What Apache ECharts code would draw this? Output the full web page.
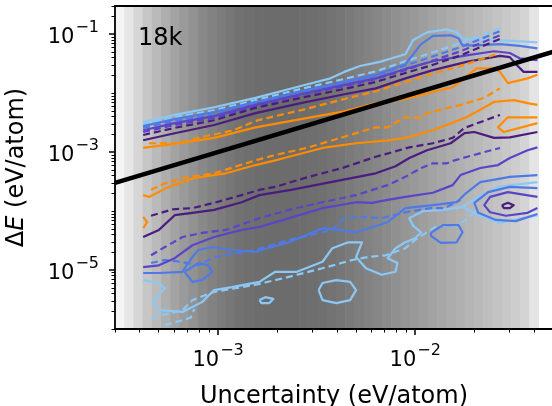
<!DOCTYPE html>
<html>
<head>
<meta charset="utf-8">
<script src="https://cdn.jsdelivr.net/npm/echarts@6/dist/echarts.min.js"></script>
<style>
html, body { margin: 0; padding: 0; background: #ffffff; }
#chart { width: 552px; height: 406px; }
</style>
</head>
<body>
<div id="chart"></div>
<script>
// All coordinates are log10 values: [log10 uncertainty, log10 ΔE] (eV/atom).
const X_MIN = Math.log10(3e-4), X_MAX = Math.log10(0.05);
const Y_MIN = -6, Y_MAX = Math.log10(0.3);

const xMajorTicks = [-3, -2];
const yMajorTicks = [-5, -3, -1];
const datasetLabel = '18k';

// Grey shading behind the contours: one value per log-spaced uncertainty bin.
const bgBinStart = Math.log10(3e-4);
const bgBinWidth = 0.0467;
const bgShade = [245, 230, 214, 198, 186, 174, 163, 154, 146, 137, 130, 124, 119, 114, 111,
  109, 108, 108, 108, 108, 109, 110, 112, 115, 118, 122, 126, 130, 134, 139, 144, 149, 153,
  158, 163, 167, 172, 176, 181, 185, 190, 195, 200, 205, 212, 228];

// ---- upper contour edges ----
const lightBlueSolidTop = [[-3.38,-2.49],[-3.22,-2.37],[-3.02,-2.24],[-2.81,-2.08],[-2.58,-1.88],[-2.43,-1.75],[-2.36,-1.64],[-2.28,-1.54],[-2.18,-1.47],[-2.05,-1.34],[-2.01,-1.10],[-1.94,-0.97],[-1.84,-0.92],[-1.79,-0.97],[-1.76,-1.07],[-1.70,-1.10],[-1.57,-1.10],[-1.38,-1.14]];
const lightBlueDashTop = [[-3.38,-2.53],[-3.22,-2.41],[-3.02,-2.29],[-2.81,-2.12],[-2.58,-1.93],[-2.36,-1.76],[-2.20,-1.63],[-2.05,-1.46],[-1.92,-1.32],[-1.77,-1.15],[-1.57,-0.90]];
const royalBlueSolidTop = [[-3.38,-2.56],[-3.22,-2.44],[-3.02,-2.32],[-2.81,-2.15],[-2.58,-1.97],[-2.36,-1.81],[-2.20,-1.69],[-2.05,-1.51],[-1.97,-1.17],[-1.91,-1.03],[-1.82,-1.02],[-1.78,-1.07],[-1.76,-1.19],[-1.69,-1.19],[-1.57,-1.17],[-1.47,-1.20],[-1.38,-1.24]];
const royalBlueDashTop = [[-3.38,-2.59],[-3.22,-2.47],[-3.02,-2.36],[-2.81,-2.17],[-2.58,-1.98],[-2.36,-1.83],[-2.20,-1.71],[-2.05,-1.53],[-1.92,-1.39],[-1.77,-1.22],[-1.57,-0.95]];
const purpleSolidTop = [[-3.38,-2.63],[-3.22,-2.51],[-3.02,-2.39],[-2.81,-2.20],[-2.58,-2.02],[-2.36,-1.86],[-2.20,-1.75],[-2.05,-1.59],[-1.91,-1.46],[-1.74,-1.36],[-1.60,-1.29],[-1.52,-1.32],[-1.47,-1.41],[-1.38,-1.44]];
const purpleDashTop = [[-3.38,-2.66],[-3.22,-2.54],[-3.02,-2.42],[-2.81,-2.22],[-2.58,-2.03],[-2.36,-1.88],[-2.20,-1.76],[-2.05,-1.61],[-1.92,-1.46],[-1.77,-1.29],[-1.57,-1.02]];
const indigoDashTop = [[-3.38,-2.71],[-3.22,-2.59],[-3.02,-2.46],[-2.81,-2.25],[-2.58,-2.08],[-2.36,-1.93],[-2.20,-1.81],[-2.05,-1.66],[-1.92,-1.53],[-1.77,-1.36],[-1.57,-1.08]];
const indigoSolidTop = [[-3.38,-2.80],[-3.22,-2.68],[-3.02,-2.54],[-2.81,-2.34],[-2.58,-2.17],[-2.36,-2.02],[-2.20,-1.92],[-2.05,-1.75],[-1.91,-1.61],[-1.74,-1.47],[-1.57,-1.37],[-1.52,-1.39],[-1.48,-1.54],[-1.45,-1.64],[-1.38,-1.64]];
const orangeDashTop = [[-3.35,-2.85],[-3.20,-2.85],[-3.09,-2.75],[-2.92,-2.63],[-2.81,-2.47],[-2.71,-2.39],[-2.58,-2.29],[-2.36,-2.10],[-2.20,-1.97],[-2.05,-1.81],[-1.92,-1.68],[-1.76,-1.53],[-1.57,-1.32]];
const orangeSolidTop = [[-3.38,-2.93],[-3.22,-2.86],[-3.02,-2.76],[-2.81,-2.58],[-2.58,-2.44],[-2.36,-2.31],[-2.20,-2.17],[-2.05,-2.10],[-1.91,-1.98],[-1.81,-1.90],[-1.75,-1.75],[-1.69,-1.58],[-1.60,-1.58],[-1.57,-1.64],[-1.53,-1.83],[-1.43,-1.75],[-1.38,-1.69]];

// ---- lower contour edges ----
const orangeSolidLow = [[-3.38,-3.73],[-3.35,-3.76],[-3.25,-3.59],[-3.12,-3.44],[-2.96,-3.36],[-2.81,-3.22],[-2.71,-3.14],[-2.64,-3.08],[-2.47,-2.93],[-2.30,-2.85],[-2.14,-2.80],[-2.05,-2.76],[-1.91,-2.63],[-1.74,-2.41],[-1.60,-2.15],[-1.50,-2.12],[-1.43,-2.17],[-1.38,-2.20]];
const orangeSolidNotch = [[-1.38,-2.41],[-1.53,-2.41],[-1.58,-2.58],[-1.55,-2.66],[-1.38,-2.51]];
const orangeSolidTail = [[-3.38,-4.10],[-3.36,-4.19],[-3.38,-4.29]];
const orangeDashLow = [[-3.34,-3.64],[-3.27,-3.53],[-3.18,-3.44],[-3.02,-3.36],[-2.81,-3.14],[-2.71,-3.05],[-2.54,-2.92],[-2.37,-2.75],[-2.20,-2.58],[-2.14,-2.58],[-2.05,-2.41],[-1.97,-2.42],[-1.94,-2.34],[-1.77,-2.20],[-1.65,-2.08],[-1.57,-1.92]];
const indigoDashLow = [[-3.34,-4.08],[-3.23,-3.97],[-3.13,-3.95],[-3.02,-3.86],[-2.88,-3.73],[-2.79,-3.64],[-2.71,-3.59],[-2.54,-3.42],[-2.37,-3.27],[-2.20,-3.08],[-2.03,-2.92],[-1.91,-2.85],[-1.81,-2.76],[-1.75,-2.59],[-1.57,-2.37]];
const indigoSolidLow = [[-3.38,-4.44],[-3.30,-4.32],[-3.22,-4.07],[-3.13,-4.03],[-3.02,-3.98],[-2.88,-3.85],[-2.79,-3.73],[-2.63,-3.64],[-2.37,-3.47],[-2.20,-3.36],[-2.10,-3.24],[-2.03,-3.10],[-1.94,-2.97],[-1.82,-2.85],[-1.75,-2.68],[-1.70,-2.66],[-1.60,-2.76],[-1.52,-2.75],[-1.38,-2.66]];
const purpleDashLow = [[-3.34,-4.75],[-3.27,-4.61],[-3.18,-4.44],[-3.08,-4.37],[-2.96,-4.32],[-2.79,-4.12],[-2.64,-3.98],[-2.47,-3.85],[-2.30,-3.73],[-2.14,-3.56],[-2.05,-3.42],[-1.97,-3.27],[-1.91,-3.19],[-1.84,-3.19],[-1.80,-3.14],[-1.65,-3.00],[-1.57,-2.93]];
const purpleSolidLow = [[-3.38,-4.95],[-3.30,-4.92],[-3.22,-4.80],[-3.13,-4.58],[-3.02,-4.44],[-2.88,-4.32],[-2.79,-4.27],[-2.64,-4.12],[-2.47,-3.95],[-2.30,-3.85],[-2.22,-3.86],[-2.14,-3.81],[-2.05,-3.76],[-1.91,-3.69],[-1.81,-3.56],[-1.77,-3.39],[-1.67,-3.27],[-1.58,-3.22],[-1.52,-3.10],[-1.43,-2.97],[-1.38,-2.92]];
const purpleRing = [[-1.38,-3.76],[-1.53,-3.68],[-1.62,-3.76],[-1.65,-3.90],[-1.62,-4.02],[-1.54,-4.08],[-1.43,-4.03],[-1.38,-3.95]];
const indigoPeak = [[-1.56,-3.90],[-1.53,-3.86],[-1.50,-3.90],[-1.52,-3.95],[-1.55,-3.95],[-1.56,-3.90]];
const royalBlueSolidLow = [[-3.38,-5.05],[-3.30,-5.05],[-3.18,-5.03],[-3.16,-4.92],[-3.13,-4.78],[-3.10,-4.66],[-3.03,-4.61],[-2.93,-4.66],[-2.81,-4.69],[-2.64,-4.53],[-2.47,-4.29],[-2.39,-4.32],[-2.30,-4.36],[-2.14,-4.19],[-2.05,-3.95],[-1.91,-3.90],[-1.79,-3.85],[-1.74,-3.69],[-1.67,-3.51],[-1.52,-3.42],[-1.38,-3.39]];
const royalBlueRing = [[-1.38,-3.61],[-1.52,-3.59],[-1.63,-3.68],[-1.70,-3.86],[-1.68,-4.03],[-1.59,-4.15],[-1.49,-4.17],[-1.38,-4.05]];
const royalBlueLoopA = [[-3.17,-5.03],[-3.13,-5.20],[-3.08,-5.17],[-3.03,-5.03],[-3.05,-4.92],[-3.10,-4.88],[-3.14,-4.97],[-3.17,-5.03]];
const royalBlueLoopB = [[-1.92,-4.37],[-1.86,-4.24],[-1.78,-4.24],[-1.76,-4.36],[-1.79,-4.53],[-1.87,-4.54],[-1.92,-4.42],[-1.92,-4.37]];
const royalBlueDashLow = [[-3.34,-4.88],[-3.27,-4.83],[-3.19,-4.86],[-3.10,-4.92],[-3.02,-4.78],[-2.81,-4.66],[-2.64,-4.49],[-2.42,-4.32],[-2.36,-4.12],[-2.25,-4.10],[-2.17,-4.12],[-2.05,-4.02],[-1.92,-3.95],[-1.85,-3.95],[-1.77,-3.81]];
const lightBlueSolidLow = [[-3.38,-5.17],[-3.30,-5.22],[-3.27,-5.31],[-3.30,-5.42],[-3.33,-5.54],[-3.30,-5.68],[-3.18,-5.71],[-3.08,-5.54],[-3.02,-5.34],[-2.93,-5.29],[-2.79,-5.20],[-2.71,-5.03],[-2.60,-5.03],[-2.47,-4.86],[-2.42,-4.63],[-2.34,-4.53],[-2.27,-4.53],[-2.30,-4.78],[-2.25,-4.97],[-2.17,-5.08],[-2.10,-5.03],[-2.09,-4.88],[-2.14,-4.80],[-2.10,-4.63],[-2.05,-4.53],[-2.00,-4.46],[-1.97,-4.36],[-2.01,-4.25],[-2.03,-4.12],[-1.96,-4.00],[-1.86,-3.98],[-1.76,-3.93],[-1.68,-3.76],[-1.57,-3.58],[-1.38,-3.51]];
const lightBlueSolidRing = [[-1.38,-4.07],[-1.57,-4.20],[-1.67,-4.08],[-1.72,-4.00],[-1.76,-3.93]];
const lightBlueBlobA = [[-2.49,-5.34],[-2.47,-5.22],[-2.40,-5.17],[-2.33,-5.20],[-2.30,-5.34],[-2.33,-5.51],[-2.40,-5.56],[-2.47,-5.51],[-2.49,-5.34]];
const lightBlueBlobB = [[-2.79,-5.51],[-2.76,-5.46],[-2.72,-5.49],[-2.74,-5.56],[-2.78,-5.56],[-2.79,-5.51]];
const lightBlueDashLow = [[-3.34,-5.81],[-3.24,-5.73],[-3.18,-5.68],[-3.13,-5.51],[-3.02,-5.37],[-2.81,-5.25],[-2.67,-5.14],[-2.47,-4.97],[-2.32,-4.83],[-2.24,-4.78],[-2.15,-4.75],[-2.05,-4.63],[-2.00,-4.49],[-1.89,-4.25],[-1.79,-4.25],[-1.73,-4.12],[-1.69,-3.98]];
const lightBlueDashTail = [[-3.27,-5.93],[-3.19,-5.86],[-3.14,-5.81],[-3.12,-5.66]];

// ---- colours ----
const ORANGE = '#ff8c00';
const INDIGO = '#4b1c7e';
const PURPLE = '#5a45c8';
const ROYAL = '#4f7ae6';
const SKY = '#8cc8f5';

const contours = [
  [lightBlueSolidLow, SKY, false], [lightBlueSolidRing, SKY, false], [lightBlueBlobA, SKY, false],
  [lightBlueBlobB, SKY, false], [lightBlueDashLow, SKY, true], [lightBlueDashTail, SKY, true],
  [royalBlueSolidLow, ROYAL, false], [royalBlueRing, ROYAL, false], [royalBlueLoopA, ROYAL, false],
  [royalBlueLoopB, ROYAL, false], [royalBlueDashLow, ROYAL, true],
  [purpleSolidLow, PURPLE, false], [purpleRing, PURPLE, false], [purpleDashLow, PURPLE, true],
  [indigoSolidLow, INDIGO, false], [indigoPeak, INDIGO, false], [indigoDashLow, INDIGO, true],
  [orangeSolidLow, ORANGE, false], [orangeSolidNotch, ORANGE, false], [orangeSolidTail, ORANGE, false],
  [orangeDashLow, ORANGE, true],
  [lightBlueSolidTop, SKY, false], [lightBlueDashTop, SKY, true],
  [royalBlueSolidTop, ROYAL, false], [royalBlueDashTop, ROYAL, true],
  [purpleSolidTop, PURPLE, false], [purpleDashTop, PURPLE, true],
  [indigoDashTop, INDIGO, true], [indigoSolidTop, INDIGO, false],
  [orangeDashTop, ORANGE, true], [orangeSolidTop, ORANGE, false]
];

const FONT = '"DejaVu Sans", "Open Sans", sans-serif';

function minorTicks(lo, hi) {
  const out = [];
  for (let d = Math.floor(lo); d <= Math.ceil(hi); d++) {
    for (let k = 1; k <= 9; k++) {
      const v = d + Math.log10(k);
      if (v >= lo - 1e-9 && v <= hi + 1e-9) out.push(v);
    }
  }
  return out;
}

const powLabel = {
  formatter: v => '{b|10}{s|\u2212' + Math.round(-v) + '}',
  rich: {
    b: { fontSize: 21, fontFamily: FONT, color: '#000', lineHeight: 28, verticalAlign: 'bottom' },
    s: { fontSize: 16, fontFamily: FONT, color: '#000', lineHeight: 16, verticalAlign: 'top', padding: [0, 0, 0, 1] }
  }
};

const chart = echarts.init(document.getElementById('chart'), null, { renderer: 'canvas' });

const series = [{
  type: 'custom',
  silent: true,
  z: 0,
  clip: true,
  data: bgShade.map((g, i) => [bgBinStart + i * bgBinWidth, bgBinStart + (i + 1) * bgBinWidth, g]),
  encode: { x: [0, 1] },
  renderItem: (params, api) => {
    const p0 = api.coord([api.value(0), Y_MAX]);
    const p1 = api.coord([api.value(1), Y_MIN]);
    const g = api.value(2);
    return {
      type: 'rect',
      shape: { x: p0[0], y: p0[1], width: p1[0] - p0[0] + 0.6, height: p1[1] - p0[1] },
      style: { fill: 'rgb(' + g + ',' + g + ',' + g + ')' }
    };
  }
}];

contours.forEach(([pts, color, dashed]) => {
  series.push({
    type: 'line',
    data: pts,
    symbol: 'none',
    silent: true,
    clip: true,
    z: 2,
    lineStyle: { color: color, width: 2.2, type: dashed ? [7, 4] : 'solid', cap: 'butt', join: 'round' }
  });
});

// ΔE equal to the uncertainty
series.push({
  type: 'line',
  data: [[X_MIN, X_MIN], [X_MAX, X_MAX]],
  symbol: 'none',
  silent: true,
  clip: true,
  z: 5,
  lineStyle: { color: '#000', width: 4.5 }
});

chart.setOption({
  animation: false,
  backgroundColor: '#ffffff',
  grid: { left: 115, top: 6, width: 438, height: 323, containLabel: false, outerBoundsMode: 'none' },
  xAxis: [{
    type: 'value', min: X_MIN, max: X_MAX, position: 'bottom',
    axisLine: { show: true, lineStyle: { color: '#000', width: 1.8 } },
    splitLine: { show: false },
    axisTick: { show: true, customValues: xMajorTicks, length: 6, lineStyle: { color: '#000', width: 1.5 } },
    axisLabel: Object.assign({ show: true, customValues: xMajorTicks, margin: 14 }, powLabel),
    name: 'Uncertainty (eV/atom)',
    nameLocation: 'middle',
    nameGap: 56,
    nameTextStyle: { fontSize: 24, fontFamily: FONT, color: '#000' }
  }, {
    type: 'value', min: X_MIN, max: X_MAX, position: 'bottom',
    axisLine: { show: false }, splitLine: { show: false }, axisLabel: { show: false },
    axisTick: { show: true, customValues: minorTicks(X_MIN, X_MAX).filter(v => xMajorTicks.indexOf(Math.round(v * 1e6) / 1e6) < 0), length: 3.5, lineStyle: { color: '#000', width: 1 } }
  }, {
    type: 'value', min: X_MIN, max: X_MAX, position: 'top',
    axisLine: { show: true, lineStyle: { color: '#000', width: 1.8 } },
    splitLine: { show: false }, axisLabel: { show: false }, axisTick: { show: false }
  }],
  yAxis: [{
    type: 'value', min: Y_MIN, max: Y_MAX, position: 'left',
    axisLine: { show: true, lineStyle: { color: '#000', width: 1.8 } },
    splitLine: { show: false },
    axisTick: { show: true, customValues: yMajorTicks, length: 6, lineStyle: { color: '#000', width: 1.5 } },
    axisLabel: Object.assign({ show: true, customValues: yMajorTicks, margin: 16 }, powLabel),
    name: '{d|\u0394}{i|E}{d| (eV/atom)}',
    nameLocation: 'middle',
    nameRotate: 90,
    nameGap: 86,
    nameTextStyle: {
      fontSize: 24, fontFamily: FONT, color: '#000',
      rich: {
        d: { fontSize: 24, fontFamily: FONT, color: '#000' },
        i: { fontSize: 24, fontFamily: FONT, color: '#000', fontStyle: 'italic' }
      }
    }
  }, {
    type: 'value', min: Y_MIN, max: Y_MAX, position: 'left',
    axisLine: { show: false }, splitLine: { show: false }, axisLabel: { show: false },
    axisTick: { show: true, customValues: minorTicks(Y_MIN, Y_MAX).filter(v => yMajorTicks.indexOf(Math.round(v * 1e6) / 1e6) < 0), length: 3.5, lineStyle: { color: '#000', width: 1 } }
  }],
  graphic: [{
    type: 'text', left: 138, top: 27, z: 10,
    style: { text: datasetLabel, font: '24px ' + FONT, fill: '#000' }
  }],
  series: series
});
</script>
</body>
</html>
